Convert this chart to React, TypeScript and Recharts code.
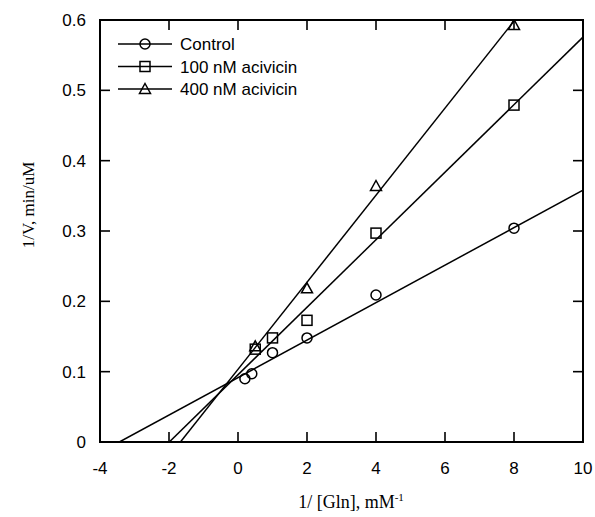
import React from 'react';
import { ComposedChart, Scatter, XAxis, YAxis, Legend, ReferenceArea, ReferenceLine } from 'recharts';

// ---- data ----
const controlX = [0.2, 0.4, 1, 2, 4, 8];
const controlY = [0.090, 0.097, 0.127, 0.148, 0.209, 0.304];
const aci100X = [0.5, 1, 2, 4, 8];
const aci100Y = [0.132, 0.148, 0.173, 0.297, 0.479];
const aci400X = [0.5, 2, 4, 8];
const aci400Y = [0.136, 0.2185, 0.364, 0.593];

// fitted lines (slope, intercept)
const fitSlopes = [0.02664, 0.048, 0.0619];
const fitIntercepts = [0.0916, 0.0956, 0.1033];

const seriesNames = ['Control', '100 nM acivicin', '400 nM acivicin'];
const xTicks = [-4, -2, 0, 2, 4, 6, 8, 10];
const xTickLabels = ['-4', '-2', '0', '2', '4', '6', '8', '10'];
const yTicks = [0, 0.1, 0.2, 0.3, 0.4, 0.5, 0.6];
const yTickLabels = ['0', '0.1', '0.2', '0.3', '0.4', '0.5', '0.6'];
const xDomain: [number, number] = [-4, 10];
const yDomain: [number, number] = [0, 0.6];

const toPoints = (xs: number[], ys: number[]) => xs.map((x, i) => ({ x, y: ys[i] }));
const fitPoints = (i: number) => {
  const m = fitSlopes[i];
  const b = fitIntercepts[i];
  const x0 = Math.max(xDomain[0], (yDomain[0] - b) / m);
  const x1 = Math.min(xDomain[1], (yDomain[1] - b) / m);
  return [
    { x: x0, y: m * x0 + b },
    { x: x1, y: m * x1 + b },
  ];
};

const SANS = '"Liberation Sans", Arial, sans-serif';
const SERIF = '"Liberation Serif", "Times New Roman", serif';
const FS = 17;
// inward tick length (~10px) expressed in data units of each axis
const TICK_X = 0.29;
const TICK_Y = 0.0142;

const Marker = ({ kind, cx, cy }: { kind: number; cx: number; cy: number }) => {
  if (kind === 0) return <circle cx={cx} cy={cy} r={5} fill="none" stroke="#000" strokeWidth={1.5} />;
  if (kind === 1)
    return <rect x={cx - 5} y={cy - 5} width={10} height={10} fill="none" stroke="#000" strokeWidth={1.5} />;
  return (
    <polygon
      points={`${cx},${cy - 5.5} ${cx + 5.5},${cy + 4.5} ${cx - 5.5},${cy + 4.5}`}
      fill="none"
      stroke="#000"
      strokeWidth={1.5}
    />
  );
};

const shapeFor = (kind: number) => (p: any) => <Marker kind={kind} cx={p.cx} cy={p.cy} />;
const noShape = () => <g />;

const labelFor = (ticks: number[], labels: string[], v: number) => {
  const i = ticks.findIndex((t) => Math.abs(t - v) < 1e-9);
  return i >= 0 ? labels[i] : String(v);
};

const BottomTick = (p: any) => (
  <text x={p.x} y={p.y + 32} textAnchor="middle" fontFamily={SANS} fontSize={FS} fill="#000">
    {labelFor(xTicks, xTickLabels, p.payload.value)}
  </text>
);
const LeftTick = (p: any) => (
  <text x={p.x - 14} y={p.y + 6} textAnchor="end" fontFamily={SANS} fontSize={FS} fill="#000">
    {labelFor(yTicks, yTickLabels, p.payload.value)}
  </text>
);

const renderLegend = () => (
  <svg width={230} height={70} style={{ display: 'block' }}>
    {seriesNames.map((name, i) => {
      const cy = 11 + i * 22.5;
      return (
        <g key={name}>
          <line x1={0} y1={cy} x2={54} y2={cy} stroke="#000" strokeWidth={1.5} />
          <Marker kind={i} cx={27} cy={cy} />
          <text x={62} y={cy + 6} fontFamily={SANS} fontSize={FS} fill="#000">
            {name}
          </text>
        </g>
      );
    })}
  </svg>
);

const yTitle = () => (
  <text x={34} y={205} transform="rotate(-90 34 205)" textAnchor="middle" fontFamily={SERIF} fontSize={17} fill="#000">
    1/V, min/uM
  </text>
);

const xTitle = () => (
  <text x={351} y={508} textAnchor="middle" fontFamily={SERIF} fontSize={18} fill="#000">
    <tspan>1/ [Gln], mM</tspan>
    <tspan dy={-7} fontSize={11}>-1</tspan>
  </text>
);

const tickStyle = { stroke: '#000', strokeWidth: 1.6, ifOverflow: 'visible' as const };

export default function App() {
  const series = [toPoints(controlX, controlY), toPoints(aci100X, aci100Y), toPoints(aci400X, aci400Y)];
  const innerX = xTicks.slice(1, -1);
  const innerY = yTicks.slice(1, -1);
  return (
    <div style={{ position: 'absolute', left: 0, top: 0, width: 595, height: 517, overflow: 'hidden', background: '#fff' }}>
      <ComposedChart width={595} height={517} margin={{ top: 20, right: 12, bottom: 0, left: 0 }}>
        <XAxis dataKey="x" type="number" domain={xDomain} ticks={xTicks} allowDataOverflow height={75} tickSize={0} tickMargin={0} tickLine={false} axisLine={false} tick={BottomTick} interval={0} label={xTitle} />
        <YAxis dataKey="y" type="number" domain={yDomain} ticks={yTicks} allowDataOverflow width={100} tickSize={0} tickMargin={0} tickLine={false} axisLine={false} tick={LeftTick} interval={0} label={yTitle} />
        <ReferenceArea x1={xDomain[0]} x2={xDomain[1]} y1={yDomain[0]} y2={yDomain[1]} fill="none" stroke="#000" strokeWidth={2} ifOverflow="visible" />
        {innerX.map((t) => (
          <ReferenceLine key={'bt' + t} segment={[{ x: t, y: yDomain[0] }, { x: t, y: yDomain[0] + TICK_Y }]} {...tickStyle} />
        ))}
        {innerX.map((t) => (
          <ReferenceLine key={'tt' + t} segment={[{ x: t, y: yDomain[1] }, { x: t, y: yDomain[1] - TICK_Y }]} {...tickStyle} />
        ))}
        {innerY.map((t) => (
          <ReferenceLine key={'lt' + t} segment={[{ x: xDomain[0], y: t }, { x: xDomain[0] + TICK_X, y: t }]} {...tickStyle} />
        ))}
        {innerY.map((t) => (
          <ReferenceLine key={'rt' + t} segment={[{ x: xDomain[1], y: t }, { x: xDomain[1] - TICK_X, y: t }]} {...tickStyle} />
        ))}
        {[0, 1, 2].map((i) => (
          <Scatter key={'fit' + i} data={fitPoints(i)} line={{ stroke: '#000', strokeWidth: 1.5 }} shape={noShape} legendType="none" isAnimationActive={false} />
        ))}
        {series.map((d, i) => (
          <Scatter key={'pts' + i} name={seriesNames[i]} data={d} shape={shapeFor(i)} isAnimationActive={false} />
        ))}
        <Legend layout="vertical" align="center" verticalAlign="middle" content={renderLegend} wrapperStyle={{ left: 118, top: 33, width: 230, height: 70 }} />
      </ComposedChart>
    </div>
  );
}
